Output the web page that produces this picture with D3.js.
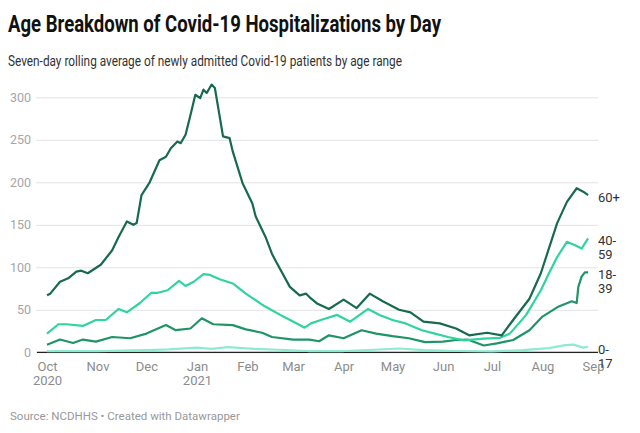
<!DOCTYPE html>
<html>
<head>
<meta charset="utf-8">
<script src="https://cdn.jsdelivr.net/npm/d3@7"></script>
<style>
  body { margin: 0; background: #fff; font-family: Roboto, "Noto Sans", sans-serif; }
</style>
</head>
<body>
<div id="chart"></div>
<script>
// data (7-day rolling averages)
const dates60 = ["2020-10-01","2020-10-03","2020-10-09","2020-10-14","2020-10-19","2020-10-22","2020-10-26","2020-11-03","2020-11-10","2020-11-14","2020-11-19","2020-11-23","2020-11-25","2020-11-28","2020-12-03","2020-12-09","2020-12-13","2020-12-16","2020-12-20","2020-12-22","2020-12-25","2020-12-28","2020-12-31","2021-01-03","2021-01-05","2021-01-07","2021-01-10","2021-01-12","2021-01-17","2021-01-21","2021-01-23","2021-01-29","2021-02-04","2021-02-06","2021-02-12","2021-02-16","2021-02-19","2021-02-27","2021-03-05","2021-03-09","2021-03-11","2021-03-16","2021-03-23","2021-04-01","2021-04-09","2021-04-17","2021-04-25","2021-05-05","2021-05-12","2021-05-20","2021-05-30","2021-06-09","2021-06-17","2021-06-28","2021-07-07","2021-07-14","2021-07-24","2021-07-31","2021-08-10","2021-08-16","2021-08-22","2021-08-26","2021-08-29"];
const vals60 = [67,69,83,87,95,96,93,103,120,136,154,150,152,185,200,226,230,240,248,246,256,279,303,299,309,305,315,311,254,252,236,199,175,160,136,116,105,77,67,69,65,57,51,62,52,69,60,50,47,36,34,28,20,23,20,38,63,93,152,177,193,189,185];

const dates40 = ["2020-10-01","2020-10-08","2020-10-13","2020-10-23","2020-10-31","2020-11-06","2020-11-14","2020-11-19","2020-11-27","2020-12-04","2020-12-08","2020-12-14","2020-12-21","2020-12-25","2020-12-30","2021-01-05","2021-01-09","2021-01-15","2021-01-23","2021-01-31","2021-02-10","2021-02-23","2021-03-05","2021-03-08","2021-03-12","2021-03-18","2021-03-28","2021-04-05","2021-04-16","2021-04-23","2021-05-01","2021-05-09","2021-05-19","2021-05-27","2021-06-04","2021-06-14","2021-06-26","2021-07-06","2021-07-12","2021-07-22","2021-07-31","2021-08-05","2021-08-10","2021-08-16","2021-08-21","2021-08-25","2021-08-29"];
const vals40 = [22,33,33,31,38,38,51,47,58,70,70,73,84,78,83,92,91,86,81,69,56,42,32,29,34,38,44,36,51,44,38,34,26,22,18,14,16,17,22,44,73,93,112,130,126,122,134];

const dates18 = ["2020-10-01","2020-10-09","2020-10-17","2020-10-23","2020-10-31","2020-11-10","2020-11-21","2020-12-01","2020-12-13","2020-12-19","2020-12-28","2021-01-04","2021-01-11","2021-01-23","2021-01-31","2021-02-10","2021-02-16","2021-03-01","2021-03-11","2021-03-17","2021-03-23","2021-04-01","2021-04-12","2021-04-21","2021-05-01","2021-05-11","2021-05-21","2021-06-01","2021-06-09","2021-06-16","2021-06-26","2021-07-04","2021-07-14","2021-07-24","2021-08-01","2021-08-11","2021-08-19","2021-08-22","2021-08-23","2021-08-25","2021-08-27","2021-08-29"];
const vals18 = [9,15,11,15,12.5,18,16.5,22,32,26,28,40,33,32,27,23,18,15,15,13,20,16.5,26,22,19,16.5,12,12.5,14.5,15,8,10.5,14.5,26,42,54,60,58,77,89,94,94];

const dates0 = ["2020-10-01","2020-11-01","2020-12-01","2020-12-15","2021-01-01","2021-01-10","2021-01-20","2021-02-05","2021-02-20","2021-03-10","2021-04-01","2021-04-20","2021-05-05","2021-05-20","2021-06-10","2021-07-01","2021-07-20","2021-08-05","2021-08-15","2021-08-20","2021-08-26","2021-08-29"];
const vals0 = [1.5,1.5,2.5,3.5,5.5,4,6,4,3,1.5,1.5,3,4.5,2.5,1.5,1,2.5,5,8.5,9,5.5,6.5];

const seriesNames = ["0-17","18-39","40-59","60+"];
const seriesColors = ["#8eead0","#1f9466","#2fd4a0","#176b4c"];

const yTicks = [0,50,100,150,200,250,300];
const monthTicks = ["2020-10-01","2020-11-01","2020-12-01","2021-01-01","2021-02-01","2021-03-01","2021-04-01","2021-05-01","2021-06-01","2021-07-01","2021-08-01","2021-09-01"];

const w = 640, h = 433;
const parse = d3.timeParse("%Y-%m-%d");

const makeSeries = (ds, vs) => ds.map((d, i) => ({ date: parse(d), value: vs[i] }));
const series = [
  makeSeries(dates0, vals0),
  makeSeries(dates18, vals18),
  makeSeries(dates40, vals40),
  makeSeries(dates60, vals60)
];

const svg = d3.select("#chart").append("svg")
  .attr("width", w)
  .attr("height", h);

// title + subtitle
svg.append("text")
  .attr("x", 8).attr("y", 32)
  .attr("font-size", 23).attr("font-weight", 700)
  .attr("fill", "#111")
  .attr("textLength", 433).attr("lengthAdjust", "spacingAndGlyphs")
  .text("Age Breakdown of Covid-19 Hospitalizations by Day");

svg.append("text")
  .attr("x", 8).attr("y", 66)
  .attr("font-size", 15).attr("fill", "#333")
  .attr("textLength", 394).attr("lengthAdjust", "spacingAndGlyphs")
  .text("Seven-day rolling average of newly admitted Covid-19 patients by age range");

// scales
const x = d3.scaleTime()
  .domain([parse("2020-10-01"), parse("2021-09-01")])
  .range([47, 593]);

const y = d3.scaleLinear()
  .domain([0, 300])
  .range([352.3, 97.3]);

// gridlines
const yAxis = d3.axisLeft(y)
  .tickValues(yTicks)
  .tickSize(-562)
  .tickPadding(5);

const gy = svg.append("g")
  .attr("transform", "translate(36,0)")
  .call(yAxis);
gy.select(".domain").remove();
gy.selectAll(".tick line").attr("stroke", "#e3e3e3").attr("transform", "translate(0,0)");
gy.selectAll(".tick text")
  .attr("font-family", "Roboto").attr("font-size", 12.5).attr("fill", "#a6a6a6");

// baseline
svg.append("line")
  .attr("x1", 37).attr("x2", 598)
  .attr("y1", y(0)).attr("y2", y(0))
  .attr("stroke", "#222").attr("stroke-width", 1.2);

// x axis labels
const xAxis = d3.axisBottom(x)
  .tickValues(monthTicks.map(parse))
  .tickSize(0)
  .tickPadding(9)
  .tickFormat(d3.timeFormat("%b"));

const gx = svg.append("g")
  .attr("transform", `translate(0,${y(0)})`)
  .call(xAxis);
gx.select(".domain").remove();
gx.selectAll(".tick text")
  .attr("font-family", "Roboto").attr("font-size", 13).attr("fill", "#8c8c8c");

// years under Oct and Jan
gx.selectAll(".tick")
  .filter(d => d.getMonth() === 0 || (d.getMonth() === 9))
  .append("text")
  .attr("y", 33)
  .attr("text-anchor", "middle")
  .attr("font-family", "Roboto").attr("font-size", 13).attr("fill", "#8c8c8c")
  .text(d => d.getFullYear());

// the lines
const line = d3.line()
  .x(d => x(d.date))
  .y(d => y(d.value));

svg.append("g")
  .selectAll("path")
  .data(series)
  .enter()
  .append("path")
  .attr("d", line)
  .attr("fill", "none")
  .attr("stroke", (d, i) => seriesColors[i])
  .attr("stroke-width", 2.2)
  .attr("stroke-linejoin", "round");

// labels at the end of each line
const labels = svg.append("g");
series.forEach((s, i) => {
  const last = s[s.length - 1];
  const parts = seriesNames[i].includes("-") ? [seriesNames[i].split("-")[0] + "-", seriesNames[i].split("-")[1]] : [seriesNames[i]];
  const t = labels.append("text")
    .attr("x", 598)
    .attr("y", y(last.value) + 7)
    .attr("font-family", "Roboto").attr("font-size", 13).attr("fill", "#333");
  parts.forEach((p, j) => {
    t.append("tspan").attr("x", 598).attr("dy", j === 0 ? 0 : 14).text(p);
  });
});

// footer
svg.append("text")
  .attr("x", 10).attr("y", 420)
  .attr("font-family", "Roboto").attr("font-size", 11.5).attr("fill", "#999")
  .text("Source: NCDHHS \u2022 Created with Datawrapper");
</script>
</body>
</html>
